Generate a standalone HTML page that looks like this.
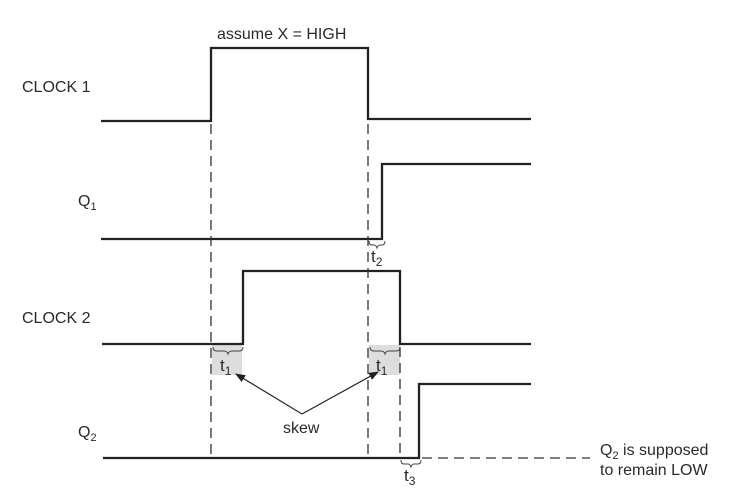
<!DOCTYPE html>
<html><head><style>
html,body{margin:0;padding:0;background:#fff;}
svg{display:block;}
text{font-family:"Liberation Sans",sans-serif;fill:#2a2a2a;}
</style></head><body>
<svg width="737" height="494" viewBox="0 0 737 494" xmlns="http://www.w3.org/2000/svg">
<defs>
<marker id="ah" markerWidth="10" markerHeight="8" refX="9" refY="4" orient="auto" markerUnits="userSpaceOnUse">
<path d="M0,0 L10,4 L0,8 z" fill="#222"/>
</marker>
</defs>
<rect x="212" y="345" width="30" height="30" fill="#ddd"/>
<rect x="369" y="345" width="31" height="30" fill="#ddd"/>
<g fill="none" stroke="#222" stroke-width="2.3">
<polyline points="101,121 211,121 211,48 368,48 368,119 531,119"/>
<polyline points="101,239 382,239 382,164 531,164"/>
<polyline points="102,344 243,344 243,271 400,271 400,344 531,344"/>
<polyline points="103,458 419,458 419,384 531,384"/>
</g>
<g stroke="#333" stroke-width="1.3" stroke-dasharray="10,6" fill="none">
<line x1="211" y1="124" x2="211" y2="456"/>
<line x1="368" y1="124" x2="368" y2="456"/>
<line x1="400" y1="347" x2="400" y2="456"/>
<line x1="422" y1="458" x2="590" y2="458"/>
</g>
<g fill="none" stroke="#444" stroke-width="1">
<path d="M213,347 q0,4 4,4 h7 q3,0 4,3 q1,-3 4,-3 h7 q4,0 4,-4"/>
<path d="M370,347 q0,4 4,4 h7 q3,0 4,3 q1,-3 4,-3 h7 q4,0 4,-4"/>
<path d="M369,241 q0,4 3,4 h2 q2,0 3,3 q1,-3 3,-3 h2 q3,0 3,-4"/>
<path d="M401,460 q0,4 3,4 h4 q2,0 3,3 q1,-3 3,-3 h4 q3,0 3,-4"/>
</g>
<g stroke="#222" stroke-width="1.2">
<line x1="302" y1="414" x2="236" y2="374" marker-end="url(#ah)"/>
<line x1="302" y1="414" x2="378" y2="372" marker-end="url(#ah)"/>
</g>
<text x="217" y="39" font-size="16">assume X = HIGH</text>
<text x="22" y="92" font-size="16">CLOCK 1</text>
<text x="78" y="206" font-size="16">Q<tspan font-size="11" dy="4">1</tspan></text>
<text x="22" y="323" font-size="16">CLOCK 2</text>
<text x="78" y="437" font-size="16">Q<tspan font-size="11" dy="4">2</tspan></text>
<text x="283" y="433" font-size="16">skew</text>
<text x="220" y="371" font-size="17">t<tspan font-size="12" dy="4">1</tspan></text>
<text x="376" y="371" font-size="17">t<tspan font-size="12" dy="4">1</tspan></text>
<text x="371" y="262" font-size="17">t<tspan font-size="12" dy="4">2</tspan></text>
<text x="404" y="481" font-size="17">t<tspan font-size="12" dy="4">3</tspan></text>
<text x="600" y="455" font-size="16">Q<tspan font-size="11" dy="4">2</tspan><tspan dy="-4"> is supposed</tspan></text>
<text x="600" y="475" font-size="16">to remain LOW</text>
</svg>
</body></html>
